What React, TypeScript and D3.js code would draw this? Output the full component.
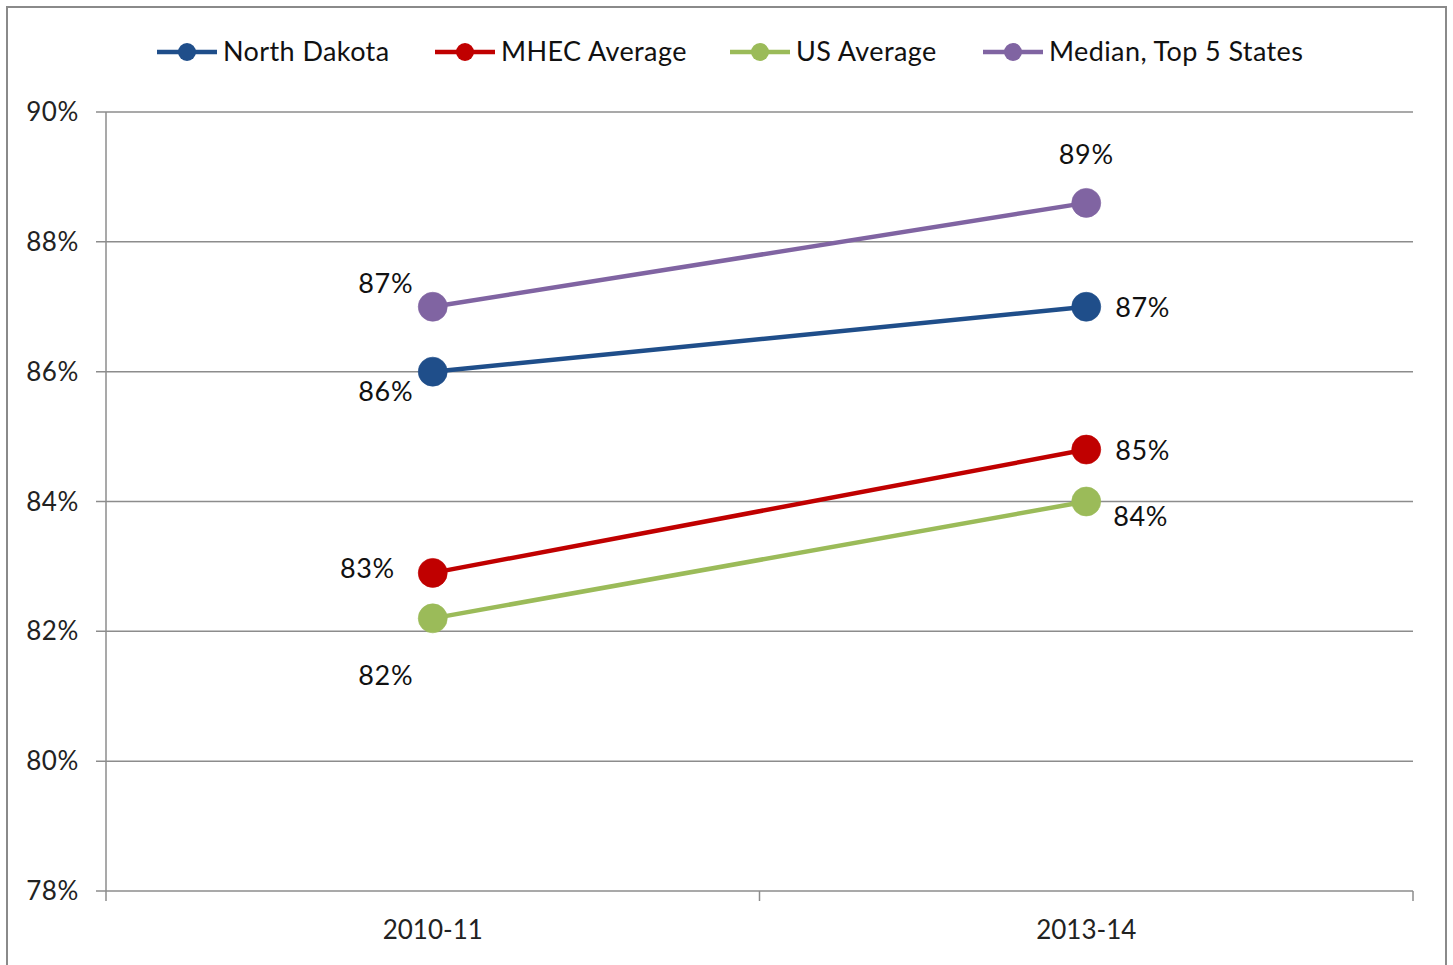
import React, { useEffect, useRef } from 'react'
import * as d3 from 'd3'

const years = ['2010-11', '2013-14']
const seriesNames = ['North Dakota', 'MHEC Average', 'US Average', 'Median, Top 5 States']
const northDakota = [86.0, 87.0]
const mhecAverage = [82.9, 84.8]
const usAverage = [82.2, 84.0]
const medianTop5 = [87.0, 88.6]
const yTicks = [78, 80, 82, 84, 86, 88, 90]

const colors = ['#1f4e8a', '#c00000', '#9bbb59', '#8064a2']
// label placement per point: [dx, dy, anchor]
const labelPlacement: [number, number, string][][] = [
  [[-47, 29, 'middle'], [29, 10, 'start']],
  [[-38, 5, 'end'], [29, 10, 'start']],
  [[-47, 67, 'middle'], [27, 24, 'start']],
  [[-47, -14, 'middle'], [0, -39, 'middle']],
]
const legendX = [157, 435, 730, 983]

export default function App() {
  const ref = useRef<SVGSVGElement>(null)

  useEffect(() => {
    const svg = d3.select(ref.current)
    svg.selectAll('*').remove()
    const font = 'Lato, "Open Sans", sans-serif'
    const left = 106, right = 1413, top = 112, bottom = 891

    svg.append('rect')
      .attr('x', 7).attr('y', 7).attr('width', 1439).attr('height', 970)
      .attr('fill', '#fff').attr('stroke', '#8a8a8a').attr('stroke-width', 2)

    const x = d3.scaleBand().domain(years).range([left, right])
    const y = d3.scaleLinear().domain([78, 90]).range([bottom, top])

    const g = svg.append('g')
    // gridlines
    g.selectAll('line.grid').data(yTicks).join('line')
      .attr('x1', left - 10).attr('x2', right)
      .attr('y1', d => y(d)).attr('y2', d => y(d))
      .attr('stroke', '#8c8c8c').attr('stroke-width', 1.5)
    g.append('line').attr('x1', left).attr('x2', left).attr('y1', top).attr('y2', bottom)
      .attr('stroke', '#8c8c8c').attr('stroke-width', 1.5)
    g.selectAll('line.xt').data([left, x(years[1])!, right]).join('line')
      .attr('x1', d => d).attr('x2', d => d).attr('y1', bottom).attr('y2', bottom + 10)
      .attr('stroke', '#8c8c8c').attr('stroke-width', 1.5)

    g.selectAll('text.yl').data(yTicks).join('text')
      .attr('x', 79).attr('y', d => y(d) + 9)
      .attr('text-anchor', 'end').attr('font-family', font).attr('font-size', 26)
      .attr('letter-spacing', 0.6)
      .attr('fill', '#222').text(d => d + '%')

    g.selectAll('text.xl').data(years).join('text')
      .attr('x', d => x(d)! + x.bandwidth() / 2).attr('y', bottom + 48)
      .attr('text-anchor', 'middle').attr('font-family', font).attr('font-size', 26)
      .attr('fill', '#222').text(d => d)

    const all = [northDakota, mhecAverage, usAverage, medianTop5]
    const line = d3.line<number>()
      .x((_, i) => x(years[i])! + x.bandwidth() / 2)
      .y(d => y(d))

    all.forEach((vals, si) => {
      const sg = svg.append('g')
      sg.append('path').attr('d', line(vals)).attr('fill', 'none')
        .attr('stroke', colors[si]).attr('stroke-width', 4.5)
      sg.selectAll('circle').data(vals).join('circle')
        .attr('cx', (_, i) => x(years[i])! + x.bandwidth() / 2)
        .attr('cy', d => y(d)).attr('r', 14.5)
        .attr('fill', colors[si]).attr('stroke', colors[si]).attr('stroke-opacity', 0.6)
      sg.selectAll('text').data(vals).join('text')
        .attr('x', (_, i) => x(years[i])! + x.bandwidth() / 2 + labelPlacement[si][i][0])
        .attr('y', (d, i) => y(d) + labelPlacement[si][i][1])
        .attr('text-anchor', (_, i) => labelPlacement[si][i][2])
        .attr('font-family', font).attr('font-size', 27).attr('letter-spacing', 0.6)
        .attr('fill', '#111')
        .text(d => Math.round(d) + '%')
    })

    // legend
    const lg = svg.append('g')
    seriesNames.forEach((name, i) => {
      const lx = legendX[i]
      lg.append('line').attr('x1', lx).attr('x2', lx + 60).attr('y1', 52).attr('y2', 52)
        .attr('stroke', colors[i]).attr('stroke-width', 4.5)
      lg.append('circle').attr('cx', lx + 30).attr('cy', 52).attr('r', 9).attr('fill', colors[i])
      lg.append('text').attr('x', lx + 66).attr('y', 61)
        .attr('font-family', font).attr('font-size', 27).attr('letter-spacing', 0.4)
        .attr('fill', '#111').text(name)
    })
  }, [])

  return (
    <svg ref={ref} width={1453} height={965}
      style={{ position: 'absolute', left: 0, top: 0, display: 'block' }} />
  )
}
